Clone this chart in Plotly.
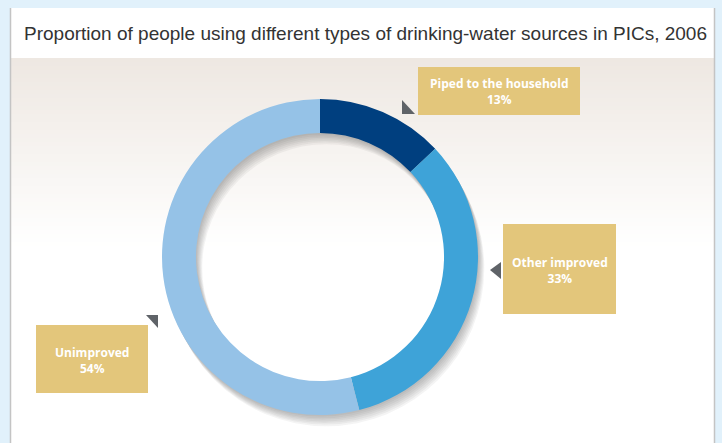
import plotly.graph_objects as go

categories = ["Piped to the household", "Other improved", "Unimproved"]
values = [13, 33, 54]
colors = ["#003f7f", "#3ea3d8", "#95c2e7"]
title_text = "Proportion of people using different types of drinking-water sources in PICs, 2006"

W, H = 722, 443


def px(x):
    return x / W


def py(y):
    return 1 - y / H


shapes = []
# panel
shapes.append(dict(type="rect", xref="paper", yref="paper", x0=px(10), x1=px(715), y0=py(443), y1=py(8),
                   fillcolor="white", line=dict(width=0), layer="below"))
# gradient band
top_c = (238, 232, 226)
g0, g1 = 58, 250
n = 48
for i in range(n):
    t = i / (n - 1)
    c = tuple(int(round(top_c[k] + (255 - top_c[k]) * t)) for k in range(3))
    ya = g0 + (g1 - g0) * i / n
    yb = g0 + (g1 - g0) * (i + 1) / n + 0.6
    shapes.append(dict(type="rect", xref="paper", yref="paper", x0=px(11), x1=px(714), y0=py(yb), y1=py(ya),
                       fillcolor="rgb(%d,%d,%d)" % c, line=dict(width=0), layer="below"))
# panel borders
for xx in (10.5, 714.5):
    shapes.append(dict(type="line", xref="paper", yref="paper", x0=px(xx), x1=px(xx), y0=py(443), y1=py(8),
                       line=dict(color="#c4c4c4", width=1.5)))

# label boxes
box_col = "#e3c67b"
boxes = [(418, 67, 580, 115), (503, 224, 616, 314), (36, 325, 148, 393)]
for (x0, y0, x1, y1) in boxes:
    shapes.append(dict(type="rect", xref="paper", yref="paper", x0=px(x0), x1=px(x1), y0=py(y1), y1=py(y0),
                       fillcolor=box_col, line=dict(width=0)))

# pointer triangles
tris = [
    [(402, 100), (402, 114), (415, 114)],
    [(490, 270), (501, 262), (501, 279)],
    [(146, 315), (158, 315), (158, 328)],
]
for tri in tris:
    path = "M " + " L ".join("%f,%f" % (px(a), py(b)) for a, b in tri) + " Z"
    shapes.append(dict(type="path", xref="paper", yref="paper", path=path,
                       fillcolor="#5f6368", line=dict(width=0)))

fig = go.Figure()

cx, cy, R = 320, 257, 158
hole = 0.785

# soft drop shadow layers
for k in range(1, 8):
    dx, dy = 0.9 * k, 1.6 * k
    fig.add_trace(go.Pie(
        values=[1], labels=["s"], sort=False, hole=hole,
        domain=dict(x=[px(cx + dx - R), px(cx + dx + R)], y=[py(cy + dy + R), py(cy + dy - R)]),
        marker=dict(colors=["rgba(70,70,70,0.06)"], line=dict(width=0)),
        textinfo="none", hoverinfo="skip", showlegend=False,
    ))

fig.add_trace(go.Pie(
    labels=categories, values=values, sort=False, direction="clockwise", rotation=0,
    hole=hole,
    domain=dict(x=[px(cx - R), px(cx + R)], y=[py(cy + R), py(cy - R)]),
    marker=dict(colors=colors, line=dict(width=0)),
    textinfo="none", showlegend=False,
))

annotations = []
label_pos = [(499, 91), (559.5, 270), (92, 360)]
for cat, val, (lx, ly) in zip(categories, values, label_pos):
    annotations.append(dict(
        xref="paper", yref="paper", x=px(lx), y=py(ly), showarrow=False,
        text="<b>%s<br>%d%%</b>" % (cat, val), align="center",
        font=dict(family="Open Sans", size=12, color="white"),
        xanchor="center", yanchor="middle",
    ))

annotations.append(dict(
    xref="paper", yref="paper", x=px(22), y=py(33), showarrow=False, text=title_text,
    font=dict(family="Liberation Sans, Arial", size=19, color="#333333"),
    xanchor="left", yanchor="middle",
))

fig.update_layout(
    width=W, height=H, margin=dict(l=0, r=0, t=0, b=0),
    paper_bgcolor="#e1f1fb", plot_bgcolor="rgba(0,0,0,0)",
    shapes=shapes, annotations=annotations, showlegend=False,
)

fig.write_html(
    "out.html",
    config={"displayModeBar": False},
    post_script="document.body.style.margin='0';document.body.style.padding='0';document.body.style.overflow='hidden';",
)
